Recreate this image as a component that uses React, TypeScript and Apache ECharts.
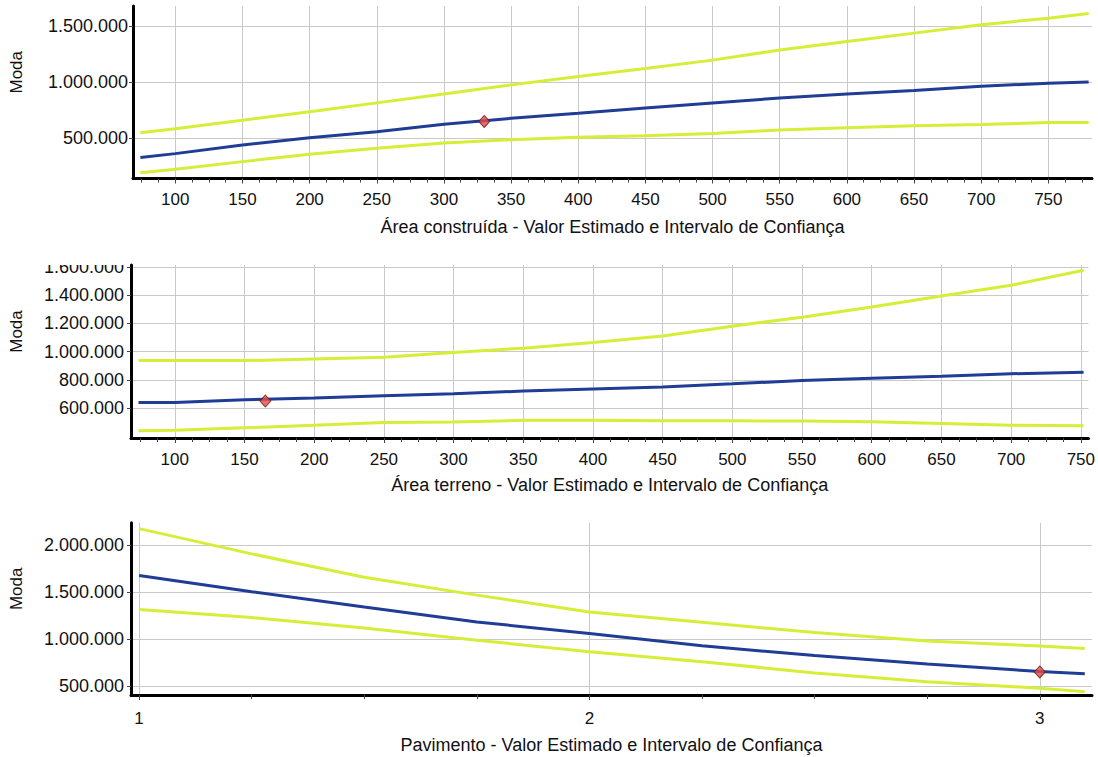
import React, { useEffect, useRef } from "react";
import * as echarts from "echarts";

// ---------- Panel 1: Área construída ----------
const areaConstruidaX = [74, 100, 150, 200, 250, 300, 350, 400, 450, 500, 550, 600, 650, 700, 750, 780];
const areaConstruidaEstimado = [330000, 364000, 441000, 506000, 559000, 625000, 678000, 722000, 770000, 815000, 858000, 893000, 926000, 962000, 990000, 1000000];
const areaConstruidaSuperior = [550000, 586000, 660000, 737000, 815000, 893000, 975000, 1050000, 1121000, 1195000, 1285000, 1360000, 1435000, 1509000, 1568000, 1610000];
const areaConstruidaInferior = [195000, 225000, 293000, 358000, 411000, 459000, 488000, 509000, 524000, 544000, 574000, 595000, 612000, 622000, 640000, 640000];
const areaConstruidaPonto = [330, 650000];
const areaConstruidaXTicks = [100, 150, 200, 250, 300, 350, 400, 450, 500, 550, 600, 650, 700, 750];
const areaConstruidaYTicks = [500000, 1000000, 1500000];

// ---------- Panel 2: Área terreno ----------
const areaTerrenoX = [74, 100, 150, 200, 250, 300, 350, 400, 450, 500, 550, 600, 650, 700, 752];
const areaTerrenoEstimado = [640000, 640000, 658000, 672000, 688000, 702000, 720000, 735000, 750000, 772000, 795000, 811000, 826000, 843000, 854000];
const areaTerrenoSuperior = [936000, 936000, 936000, 948000, 960000, 994000, 1024000, 1064000, 1111000, 1180000, 1243000, 1315000, 1393000, 1469000, 1576000];
const areaTerrenoInferior = [440000, 442000, 460000, 478000, 498000, 501000, 513000, 513000, 511000, 510000, 508000, 503000, 491000, 479000, 474000];
const areaTerrenoPonto = [165, 650000];
const areaTerrenoXTicks = [100, 150, 200, 250, 300, 350, 400, 450, 500, 550, 600, 650, 700, 750];
const areaTerrenoYTicks = [600000, 800000, 1000000, 1200000, 1400000, 1600000];

// ---------- Panel 3: Pavimento ----------
const pavimentoX = [1, 1.25, 1.5, 1.75, 2, 2.25, 2.5, 2.75, 3, 3.1];
const pavimentoEstimado = [1680000, 1507000, 1344000, 1184000, 1060000, 930000, 825000, 735000, 655000, 630000];
const pavimentoSuperior = [2180000, 1910000, 1660000, 1470000, 1290000, 1180000, 1070000, 980000, 926000, 901000];
const pavimentoInferior = [1316000, 1230000, 1120000, 989000, 865000, 759000, 640000, 546000, 476000, 440000];
const pavimentoPonto = [3, 650000];
const pavimentoXTicks = [1, 2, 3];
const pavimentoYTicks = [500000, 1000000, 1500000, 2000000];

const FONT = '"Liberation Sans", Arial, sans-serif';
const BLUE = "#1f3c96";
const YELLOW = "#d6ee38";
const GRIDLINE = "#c9c9c9";

const fmt = (v: number) => String(Math.round(v)).replace(/\B(?=(\d{3})+(?!\d))/g, ".");

function minorTicks(min: number, max: number, step: number) {
  const out: number[] = [];
  const start = Math.ceil(min / step) * step;
  for (let v = start; v <= max + 1e-9; v += step) out.push(Number(v.toFixed(4)));
  return out;
}

const panels = [
  {
    x: areaConstruidaX, est: areaConstruidaEstimado, sup: areaConstruidaSuperior, inf: areaConstruidaInferior,
    ponto: areaConstruidaPonto, xTicks: areaConstruidaXTicks, yTicks: areaConstruidaYTicks,
    title: "Área construída - Valor Estimado e Intervalo de Confiança",
    xMin: 68.5, xMax: 782.5, yMin: 143000, yMax: 1676000, minorStep: 12.5,
    grid: { left: 133, top: 6, width: 959, height: 172.5 }, labelMargin: 5, nameGap: 108, xLabelMargin: 12, xNameGap: 39,
  },
  {
    x: areaTerrenoX, est: areaTerrenoEstimado, sup: areaTerrenoSuperior, inf: areaTerrenoInferior,
    ponto: areaTerrenoPonto, xTicks: areaTerrenoXTicks, yTicks: areaTerrenoYTicks,
    title: "Área terreno - Valor Estimado e Intervalo de Confiança",
    xMin: 68.6, xMax: 755.5, yMin: 388000, yMax: 1613000, minorStep: 12.5,
    grid: { left: 130, top: 265, width: 963, height: 173 }, labelMargin: 7, nameGap: 106, xLabelMargin: 13, xNameGap: 38,
  },
  {
    x: pavimentoX, est: pavimentoEstimado, sup: pavimentoSuperior, inf: pavimentoInferior,
    ponto: pavimentoPonto, xTicks: pavimentoXTicks, yTicks: pavimentoYTicks,
    title: "Pavimento - Valor Estimado e Intervalo de Confiança",
    xMin: 0.982, xMax: 3.116, yMin: 404000, yMax: 2243000, minorStep: 0.25,
    grid: { left: 130, top: 522.7, width: 962, height: 172.3 }, labelMargin: 7, nameGap: 106, xLabelMargin: 15, xNameGap: 41,
  },
];

export default function App() {
  const ref = useRef<HTMLDivElement>(null);

  useEffect(() => {
    document.body.style.margin = "0";
    if (!ref.current) return;
    const chart = echarts.init(ref.current, undefined, { renderer: "svg" });

    const grids: any[] = [];
    const xAxes: any[] = [];
    const yAxes: any[] = [];
    const series: any[] = [];

    panels.forEach((p, i) => {
      grids.push({ ...p.grid, containLabel: false });
      xAxes.push({
        type: "value", gridIndex: i, min: p.xMin, max: p.xMax, position: "bottom",
        axisLine: { show: true, onZero: false, lineStyle: { color: "#000", width: 3 } },
        axisTick: { show: true, length: 5, customValues: p.xTicks, lineStyle: { color: "#444", width: 1 } },
        axisLabel: { customValues: p.xTicks, formatter: (v: number) => String(v), color: "#111", fontSize: 17, fontFamily: FONT, margin: p.xLabelMargin },
        splitLine: { show: true, lineStyle: { color: GRIDLINE, width: 1 } },
        name: p.title, nameLocation: "middle", nameGap: p.xNameGap,
        nameTextStyle: { color: "#111", fontSize: 18, fontFamily: FONT },
      });
      xAxes.push({
        type: "value", gridIndex: i, min: p.xMin, max: p.xMax, position: "bottom",
        axisLine: { show: false, onZero: false },
        axisTick: { show: true, length: 4, customValues: minorTicks(p.xMin, p.xMax, p.minorStep), lineStyle: { color: "#444", width: 1 } },
        axisLabel: { show: false },
        splitLine: { show: false },
      });
      yAxes.push({
        type: "value", gridIndex: i, min: p.yMin, max: p.yMax,
        axisLine: { show: true, onZero: false, lineStyle: { color: "#000", width: 3 } },
        axisTick: { show: true, length: 4, customValues: p.yTicks, lineStyle: { color: "#444", width: 1 } },
        axisLabel: { customValues: p.yTicks, formatter: fmt, color: "#111", fontSize: 18, fontFamily: FONT, margin: p.labelMargin },
        splitLine: { show: true, lineStyle: { color: GRIDLINE, width: 1 } },
        name: "Moda", nameLocation: "middle", nameGap: p.nameGap, nameRotate: 90,
        nameTextStyle: { color: "#111", fontSize: 17, fontFamily: FONT, padding: [0, 0, 0, 40] },
      });
      const xi = i * 2;
      const mk = (vals: number[]) => p.x.map((xv, k) => [xv, vals[k]]);
      const lineBase = { type: "line", xAxisIndex: xi, yAxisIndex: i, showSymbol: false, smooth: false, silent: true };
      series.push({ ...lineBase, name: "Superior", data: mk(p.sup), lineStyle: { color: YELLOW, width: 3 } });
      series.push({ ...lineBase, name: "Inferior", data: mk(p.inf), lineStyle: { color: YELLOW, width: 3 } });
      series.push({ ...lineBase, name: "Estimado", data: mk(p.est), lineStyle: { color: BLUE, width: 3 } });
      series.push({
        type: "scatter", xAxisIndex: xi, yAxisIndex: i, data: [p.ponto], symbol: "diamond", symbolSize: [11, 12],
        itemStyle: { color: "#e24b45", borderColor: "#6b1410", borderWidth: 1 }, z: 5,
      });
    });

    chart.setOption({
      animation: false,
      backgroundColor: "#fff",
      grid: grids,
      xAxis: xAxes,
      yAxis: yAxes,
      series,
      graphic: [
        { type: "rect", z: 1000, zlevel: 0, left: 0, top: 240, shape: { width: 127, height: 25 }, style: { fill: "#fff" } },
      ],
    });

    return () => chart.dispose();
  }, []);

  return <div ref={ref} style={{ width: 1098, height: 757 }} />;
}
